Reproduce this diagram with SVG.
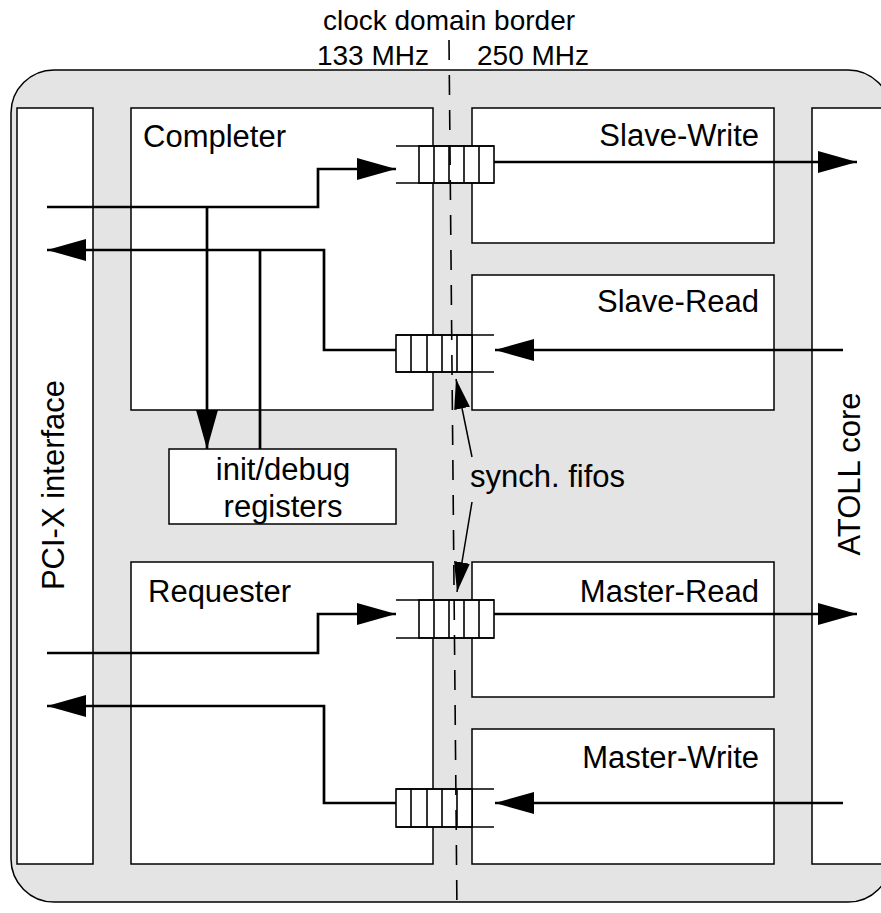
<svg xmlns="http://www.w3.org/2000/svg" width="881" height="913" viewBox="0 0 881 913">
<defs>
<marker id="ah" viewBox="0 0 39 22" refX="39" refY="11" markerWidth="39" markerHeight="22" markerUnits="userSpaceOnUse" orient="auto"><path d="M0,0 L39,11 L0,22 z" fill="#000"/></marker>
<marker id="ahs" viewBox="0 0 30 16" refX="30" refY="8" markerWidth="30" markerHeight="16" markerUnits="userSpaceOnUse" orient="auto"><path d="M0,0 L30,8 L0,16 z" fill="#000"/></marker>
<style>
.box{fill:#fff;stroke:#000;stroke-width:1.5}
.con{fill:none;stroke:#000;stroke-width:2.7;marker-end:url(#ah)}
.plain{fill:none;stroke:#000;stroke-width:2.7}
.lead{fill:none;stroke:#000;stroke-width:1.5;marker-end:url(#ahs)}
.fl{fill:none;stroke:#000;stroke-width:1.6}
.cell{fill:#fff;stroke:#000;stroke-width:1.6}
text{font-family:"Liberation Sans",Arial,sans-serif;fill:#000}
.lbl{font-size:31px}
.top{font-size:28px}
</style>
</defs>
<rect x="11" y="70" width="880" height="832" rx="43" ry="43" fill="#e4e4e4" stroke="#000" stroke-width="1.5"/>
<g id="pcix"><rect class="box" x="17" y="108" width="76" height="756"/><text class="lbl" transform="translate(64,485) rotate(-90)" text-anchor="middle">PCI-X interface</text></g>
<g id="atoll"><rect class="box" x="812" y="108" width="100" height="756"/><text class="lbl" transform="translate(860,474) rotate(-90)" text-anchor="middle">ATOLL core</text></g>
<g id="completer"><rect class="box" x="131" y="108" width="302" height="302"/><text class="lbl" x="143" y="147">Completer</text></g>
<g id="requester"><rect class="box" x="131" y="562" width="302" height="302"/><text class="lbl" x="148" y="602">Requester</text></g>
<g id="slave-write"><rect class="box" x="472" y="108" width="302" height="135"/><text class="lbl" x="759" y="146" text-anchor="end">Slave-Write</text></g>
<g id="slave-read"><rect class="box" x="472" y="275" width="302" height="135"/><text class="lbl" x="759" y="312" text-anchor="end">Slave-Read</text></g>
<g id="master-read"><rect class="box" x="472" y="562" width="302" height="135"/><text class="lbl" x="759" y="602" text-anchor="end">Master-Read</text></g>
<g id="master-write"><rect class="box" x="472" y="729" width="302" height="135"/><text class="lbl" x="759" y="768" text-anchor="end">Master-Write</text></g>
<g id="init-debug"><rect class="box" x="169" y="449" width="227" height="75"/><text class="lbl" x="283" y="480" text-anchor="middle">init/debug</text><text class="lbl" x="283" y="517" text-anchor="middle">registers</text></g>
<g id="connectors">
<path class="con" d="M47,207 H318 V169 H396"/>
<path class="con" d="M207,207 V449"/>
<path class="plain" d="M260,449 V250"/>
<path class="con" d="M396,350 H324 V250 H47"/>
<path class="con" d="M494,162 H857"/>
<path class="con" d="M843,350 H495"/>
<path class="con" d="M47,653 H318 V614 H396"/>
<path class="con" d="M396,803 H324 V706 H47"/>
<path class="con" d="M494,614 H857"/>
<path class="con" d="M843,803 H495"/>
<path class="lead" d="M472,457 L456,379"/>
<path class="lead" d="M472,502 L457,592"/>
</g>
<g id="fifo-slave-write">
<rect class="cell" x="419" y="146" width="75" height="37"/>
<path class="fl" d="M396,146 H494 M396,183 H494 M434,146 V183 M449,146 V183 M464,146 V183 M479,146 V183"/>
</g>
<g id="fifo-slave-read">
<rect class="cell" x="396" y="335" width="76" height="37"/>
<path class="fl" d="M396,335 H494 M396,372 H494 M411,335 V372 M427,335 V372 M442,335 V372 M457,335 V372"/>
</g>
<g id="fifo-master-read">
<rect class="cell" x="419" y="600" width="75" height="38"/>
<path class="fl" d="M396,600 H494 M396,638 H494 M434,600 V638 M449,600 V638 M464,600 V638 M479,600 V638"/>
</g>
<g id="fifo-master-write">
<rect class="cell" x="396" y="789" width="76" height="38"/>
<path class="fl" d="M396,789 H494 M396,827 H494 M411,789 V827 M427,789 V827 M442,789 V827 M457,789 V827"/>
</g>
<line id="border" x1="449" y1="40" x2="457" y2="913" stroke="#000" stroke-width="1.6" stroke-dasharray="20 15"/>
<g id="labels">
<text class="top" x="449" y="30" text-anchor="middle">clock domain border</text>
<text class="top" x="429" y="65" text-anchor="end">133 MHz</text>
<text class="top" x="477" y="65">250 MHz</text>
<text class="lbl" x="470" y="487">synch. fifos</text>
</g>
</svg>
